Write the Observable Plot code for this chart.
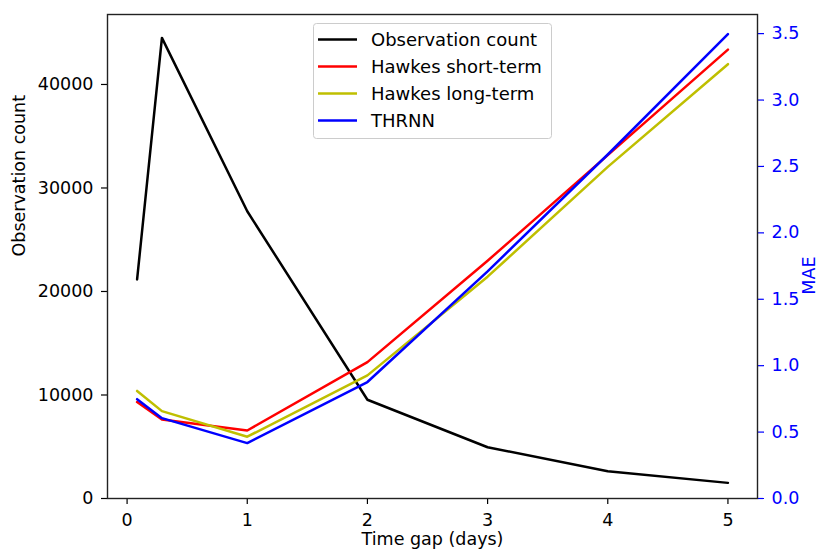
<!DOCTYPE html>
<html><head><meta charset="utf-8">
<script src="https://cdn.jsdelivr.net/npm/d3@7"></script>
<script src="https://cdn.jsdelivr.net/npm/@observablehq/plot@0.6"></script>
<style>
html,body{margin:0;padding:0;background:#fff;overflow:hidden}
#wrap{position:relative;width:820px;height:555px}
#wrap svg{overflow:hidden}
</style></head><body><div id="wrap"></div>
<script>
// ---- data ----
const timeGap = [1/12, 0.29, 1, 2, 3, 4, 5];
const observationCount = [21160, 44500, 27750, 9540, 4950, 2630, 1510];
const maeHawkesShort = [0.726, 0.595, 0.512, 1.027, 1.79, 2.585, 3.38];
const maeHawkesLong = [0.81, 0.658, 0.465, 0.927, 1.67, 2.497, 3.27];
const maeTHRNN = [0.748, 0.605, 0.417, 0.877, 1.71, 2.59, 3.497];
const seriesNames = ["Observation count", "Hawkes short-term", "Hawkes long-term", "THRNN"];
const seriesColors = ["#000000", "#ff0000", "#bfbf00", "#0000ff"];
const xTicks = [0, 1, 2, 3, 4, 5];
const countTicks = [0, 10000, 20000, 30000, 40000];
const maeTicks = [0, 0.5, 1, 1.5, 2, 2.5, 3, 3.5];
const xLabel = "Time gap (days)";
const yLeftLabel = "Observation count";
const yRightLabel = "MAE";

const countMax = 46760, maeMax = 3.644;
const k = countMax / maeMax; // MAE -> shared y scale
const FONT = "DejaVu Sans";
const FS = 17.5;

const countRows = timeGap.map((t, i) => ({x: t, y: observationCount[i], s: seriesNames[0]}));
const maeSeries = [maeHawkesShort, maeHawkesLong, maeTHRNN];
const maeRows = maeSeries.flatMap((arr, j) => timeGap.map((t, i) => ({x: t, y: arr[i] * k, s: seriesNames[j + 1]})));

const chart = Plot.plot({
  width: 820, height: 555,
  marginLeft: 107, marginRight: 63, marginTop: 14, marginBottom: 57,
  style: {fontFamily: FONT, fontSize: FS + "px", background: "#fff", color: "#000"},
  x: {domain: [-0.163, 5.246], label: null},
  y: {domain: [0, countMax], label: null},
  color: {domain: seriesNames, range: seriesColors},
  marks: [
    Plot.line(countRows, {x: "x", y: "y", stroke: "s", strokeWidth: 2.5}),
    Plot.line(maeRows, {x: "x", y: "y", stroke: "s", z: "s", strokeWidth: 2.5}),
    Plot.axisX(xTicks, {tickSize: 6, tickPadding: 9, fontSize: FS, label: null, tickFormat: d => String(d), strokeWidth: 1.2}),
    Plot.axisY(countTicks, {anchor: "left", tickSize: 6, tickPadding: 8, fontSize: FS, label: null, tickFormat: d => String(d), strokeWidth: 1.2}),
    Plot.axisY(maeTicks.map(v => v * k), {anchor: "right", tickSize: 6, tickPadding: 8, fontSize: FS, label: null, color: "#0000ff", tickFormat: d => (d / k).toFixed(1), strokeWidth: 1.2}),
    Plot.frame({stroke: "#222", strokeWidth: 1.4}),
    Plot.text([xLabel], {frameAnchor: "bottom", dy: 46, text: d => d, fontSize: FS, fill: "#000"}),
    Plot.text([yLeftLabel], {frameAnchor: "left", dx: -88, rotate: -90, text: d => d, fontSize: FS, fill: "#000"}),
    Plot.text([yRightLabel], {frameAnchor: "right", dx: 52, rotate: -90, text: d => d, fontSize: FS, fill: "#0000ff"})
  ]
});
document.getElementById("wrap").appendChild(chart);

// ---- legend inside the axes (upper center) ----
const svg = d3.select(chart);
const lg = svg.append("g").attr("transform", "translate(313,23)").attr("text-anchor", "start");
lg.append("rect").attr("x", 0.5).attr("y", 0.5).attr("width", 238).attr("height", 115)
  .attr("rx", 3).attr("fill", "rgba(255,255,255,0.8)").attr("stroke", "#cccccc").attr("stroke-width", 1);
seriesNames.forEach((name, i) => {
  const cy = 16.5 + i * 27;
  lg.append("line").attr("x1", 5).attr("x2", 44).attr("y1", cy).attr("y2", cy)
    .attr("stroke", seriesColors[i]).attr("stroke-width", 2.5);
  lg.append("text").attr("x", 58).attr("y", cy).attr("dy", "0.35em").attr("text-anchor", "start")
    .attr("font-family", FONT).attr("font-size", 18).attr("fill", "#000").text(name);
});
</script>
</body></html>
